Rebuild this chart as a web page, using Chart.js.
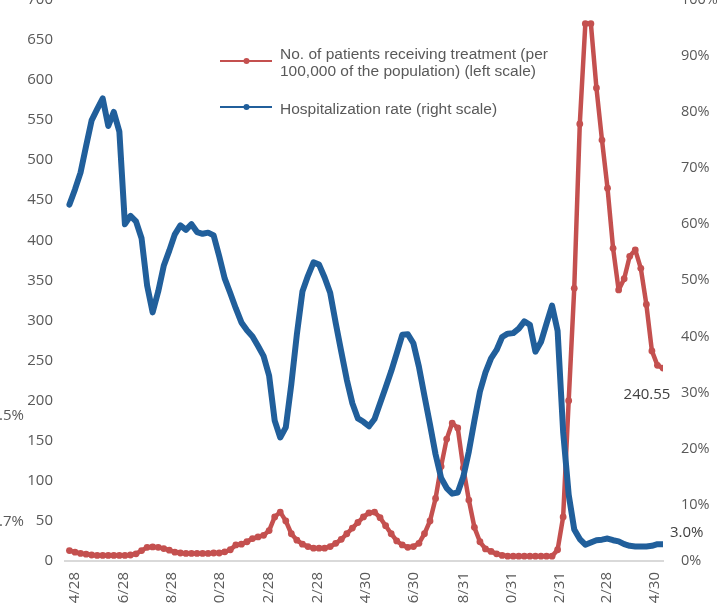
<!DOCTYPE html>
<html>
<head>
<meta charset="utf-8">
<script src="https://cdn.jsdelivr.net/npm/chart.js@4.4.0/dist/chart.umd.min.js"></script>
<style>
  html, body { margin: 0; padding: 0; background: #fff; overflow: hidden; }
  body { width: 718px; height: 606px; position: relative; }
  #chart { position: absolute; left: 0; top: -27px; }
</style>
</head>
<body>
<canvas id="chart" width="718" height="667"></canvas>
<script>
// weekly observations, first one a week before 4/28
const firstDay = -7;
const weekDays = 7;

// No. of patients receiving treatment per 100,000 (left scale)
const patients = [
  13, 11, 9.5, 8.5, 7.5, 7, 7, 7, 7, 7,
  7, 7.5, 9, 13, 17, 17.5, 17, 15.5, 13.5, 11,
  10, 9.5, 9.5, 9.5, 9.5, 9.5, 10, 10, 11.5, 14,
  20, 21, 24, 28, 30, 32, 38, 55, 61, 50,
  34, 26, 21, 18, 16, 16, 16, 18, 22, 27,
  34, 41, 48, 55, 60, 61, 54, 44, 34, 25,
  20, 17, 18, 22, 34, 50, 78, 118, 152, 172,
  166, 116, 76, 42, 24, 15, 12, 9, 7, 6,
  6, 6, 6, 6, 6, 6, 6, 6, 14, 55,
  200, 340, 545, 670, 670, 590, 525, 465, 390, 338,
  352, 380, 388, 365, 320, 262, 244, 240.55
];

// Hospitalization rate, % (right scale)
const hospRate = [
  63.5, 66.2, 69.2, 73.9, 78.5, 80.5, 82.4, 77.5, 80.0, 76.5,
  60.0, 61.5, 60.5, 57.5, 49.1, 44.3, 48.0, 52.6, 55.3, 58.2,
  59.8, 59.0, 60.0, 58.6, 58.3, 58.5, 58.0, 54.3, 50.3, 47.7,
  45.0, 42.5, 41.1, 40.0, 38.3, 36.5, 33.0, 25.0, 22.0, 23.8,
  31.5, 40.4, 48.0, 50.8, 53.2, 52.8, 50.5, 47.8, 42.4, 37.3,
  32.3, 28.1, 25.4, 24.8, 24.0, 25.3, 28.1, 30.9, 33.8, 37.0,
  40.3, 40.4, 38.8, 34.6, 29.4, 24.3, 19.0, 14.8, 13.0, 12.0,
  12.2, 15.0, 19.5, 25.0, 30.2, 33.6, 36.1, 37.6, 39.9, 40.5,
  40.6, 41.4, 42.7, 42.1, 37.3, 39.0, 42.3, 45.5, 41.0, 23.0,
  11.8, 5.6, 3.9, 2.9, 3.3, 3.7, 3.8, 4.0, 3.7, 3.5,
  3.0, 2.7, 2.6, 2.6, 2.6, 2.7, 3.0, 3.0
];

// x tick positions (days since 4/28) and their labels
const tickDays = [0, 61, 122, 183, 244, 306, 367, 428, 490, 551, 612, 671, 732];
const tickLabels = ['4/28', '6/28', '8/28', '10/28', '12/28', '2/28', '4/30', '6/30', '8/31', '10/31', '12/31', '2/28', '4/30'];

const legendLines = [
  ['No. of patients receiving treatment (per', '100,000 of the population) (left scale)'],
  ['Hospitalization rate (right scale)']
];
const endLabels = ['240.55', '3.0%'];
const clippedLabels = ['.5%', '.7%'];

const red = '#c4504f';
const blue = '#215f9b';
const days = patients.map((_, i) => firstDay + i * weekDays);

const extras = {
  id: 'extras',
  afterDraw(chart) {
    const c = chart.ctx;
    const xs = chart.scales.x, yl = chart.scales.yLeft, yr = chart.scales.yRight;
    const last = days.length - 1;
    const px = xs.getPixelForValue(days[last]);
    const dy = 27; // canvas sits 27px above the page top
    c.save();
    // end-of-series data labels
    c.font = '15px "Open Sans", sans-serif';
    c.fillStyle = '#404040';
    c.textBaseline = 'middle';
    c.textAlign = 'center';
    c.fillText(endLabels[0], px - 16, yl.getPixelForValue(patients[last]) + 27);
    c.textAlign = 'left';
    c.fillText(endLabels[1], px + 7, yr.getPixelForValue(hospRate[last]) - 11);
    // fragments of a neighbouring chart cut by the crop
    c.fillStyle = '#595959';
    c.fillText(clippedLabels[0], -1, 416 + dy);
    c.fillText(clippedLabels[1], -1, 522 + dy);
    // legend
    const items = [
      { color: red, lineY: 61, rows: [58.7, 75.5] },
      { color: blue, lineY: 107, rows: [114] }
    ];
    items.forEach((it, i) => {
      c.strokeStyle = it.color;
      c.lineWidth = 2;
      c.beginPath();
      c.moveTo(220, it.lineY + dy);
      c.lineTo(272, it.lineY + dy);
      c.stroke();
      c.fillStyle = it.color;
      c.beginPath();
      c.arc(246.5, it.lineY + dy, 3, 0, Math.PI * 2);
      c.fill();
      c.fillStyle = '#595959';
      c.font = '15.5px "Liberation Sans", Arial, sans-serif';
      c.textAlign = 'left';
      c.textBaseline = 'alphabetic';
      legendLines[i].forEach((t, j) => c.fillText(t, 280, it.rows[j] + dy));
    });
    c.restore();
  }
};

Chart.defaults.font.family = '"Open Sans", sans-serif';
Chart.defaults.font.size = 15;
Chart.defaults.color = '#595959';

const ctx = document.getElementById('chart').getContext('2d');
const chart = new Chart(ctx, {
  type: 'line',
  data: {
    datasets: [
      {
        label: legendLines[0].join(' '),
        data: days.map((d, i) => ({ x: d, y: patients[i] })),
        yAxisID: 'yLeft',
        borderColor: red,
        backgroundColor: red,
        borderWidth: 4.5,
        pointRadius: 3.4,
        pointBorderWidth: 0,
        borderJoinStyle: 'round',
        borderCapStyle: 'round',
        order: 1
      },
      {
        label: legendLines[1][0],
        data: days.map((d, i) => ({ x: d, y: hospRate[i] })),
        yAxisID: 'yRight',
        borderColor: blue,
        backgroundColor: blue,
        borderWidth: 6,
        pointRadius: 2,
        pointBorderWidth: 0,
        borderJoinStyle: 'round',
        borderCapStyle: 'round',
        order: 0
      }
    ]
  },
  options: {
    responsive: false,
    animation: false,
    layout: { padding: { top: 12, bottom: 19, left: 0, right: 0 } },
    plugins: { legend: { display: false }, tooltip: { enabled: false } },
    scales: {
      x: {
        type: 'linear',
        min: -12.6,
        max: 742,
        grid: { display: false, drawTicks: false },
        border: { display: true, color: '#d9d9d9', width: 2 },
        afterBuildTicks: s => { s.ticks = tickDays.map(v => ({ value: v })); },
        afterFit: s => { s.height = 60; },
        ticks: {
          autoSkip: false,
          maxRotation: 90,
          minRotation: 90,
          padding: 11,
          callback: v => tickLabels[tickDays.indexOf(v)]
        }
      },
      yLeft: {
        position: 'left',
        min: 0,
        max: 700,
        grid: { display: false, drawTicks: false },
        border: { display: false },
        afterFit: s => { s.width = 65; },
        ticks: { stepSize: 50, padding: 12 }
      },
      yRight: {
        position: 'right',
        min: 0,
        max: 100,
        grid: { display: false, drawTicks: false },
        border: { display: false },
        afterFit: s => { s.width = 55; },
        ticks: { stepSize: 10, padding: 18, font: { size: 14.5 }, callback: v => v + '%' }
      }
    }
  },
  plugins: [extras]
});
</script>
</body>
</html>
